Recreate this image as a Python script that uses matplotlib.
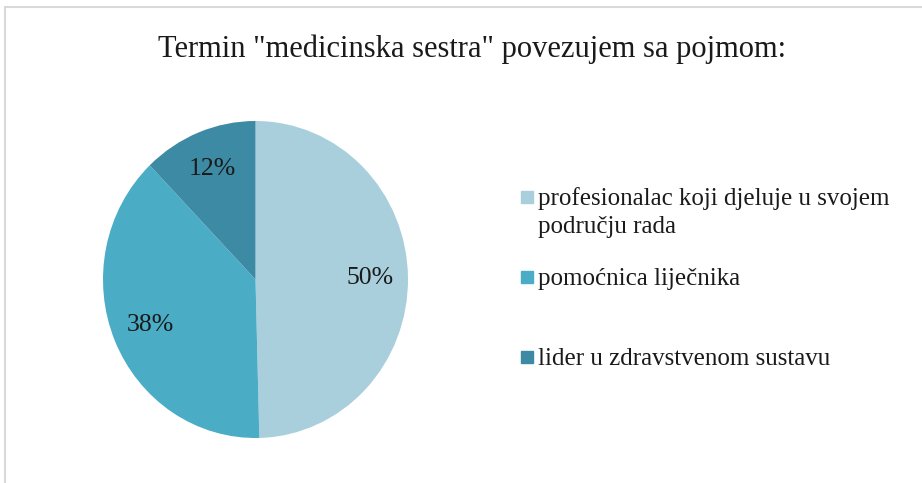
import matplotlib
matplotlib.use("Agg")
import matplotlib.pyplot as plt
from matplotlib.patches import Rectangle

labels = ["profesionalac koji djeluje u svojem\npodručju rada",
          "pomoćnica liječnika",
          "lider u zdravstvenom sustavu"]
shares = [49.6, 38.2, 12.2]
colors = ["#AACFDC", "#4BACC6", "#3C8AA3"]

plt.rcParams['font.family'] = ['Liberation Serif', 'DejaVu Serif']

fig = plt.figure(figsize=(9.22, 4.83), dpi=100)
W, H = 922, 483

# outer frame like the original chart box
fig.patches.append(Rectangle((5 / W, -0.05), 1.0, 1 - 7.5 / H + 0.05,
                             transform=fig.transFigure, fill=False,
                             edgecolor="#D9D9D9", linewidth=1.5))

cx, cy, rx, ry = 255.5, 279.5, 152.5, 158.5
ax = fig.add_axes([(cx - rx) / W, (H - cy - ry) / H, 2 * rx / W, 2 * ry / H])
wedges, texts, autotexts = ax.pie(shares, colors=colors, startangle=90,
                                  counterclock=False, autopct="%.0f%%",
                                  pctdistance=0.75,
                                  wedgeprops=dict(linewidth=0),
                                  textprops=dict(fontsize=18.5, color="#1a1a1a"))
ax.set_aspect("auto")
ax.set_xlim(-1, 1)
ax.set_ylim(-1, 1)

fig.text(472 / W, 1 - 57 / H, 'Termin "medicinska sestra" povezujem sa pojmom:',
         ha="center", va="baseline", fontsize=22, color="#1a1a1a")

# legend drawn by hand to keep the uneven spacing
baselines = [205, 285, 365]
for lab, col, y in zip(labels, colors, baselines):
    fig.patches.append(Rectangle((521 / W, 1 - (y - 2) / H), 12 / W, 12 / H,
                                 transform=fig.transFigure, color=col))
    for i, line in enumerate(lab.split("\n")):
        fig.text(538 / W, 1 - (y + 28 * i) / H, line, ha="left", va="baseline",
                 fontsize=18, color="#1a1a1a")

fig.savefig("out.png", dpi=100)
